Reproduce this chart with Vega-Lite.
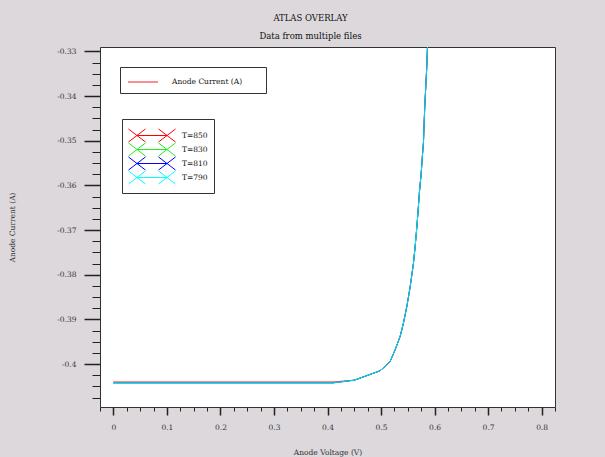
{
  "$schema": "https://vega.github.io/schema/vega-lite/v6.json",
  "autosize": {"type": "none"},
  "width": 455,
  "height": 360,
  "padding": {"left": 100, "top": 47, "right": 50, "bottom": 50},
  "background": "#dcd8dc",
  "title": {
    "text": "ATLAS OVERLAY",
    "subtitle": "Data from multiple files",
    "anchor": "middle",
    "dx": -17,
    "offset": 7,
    "font": "DejaVu Serif",
    "fontSize": 8.5,
    "fontWeight": "normal",
    "color": "#111",
    "subtitleFont": "DejaVu Serif",
    "subtitleFontSize": 8.5,
    "subtitleColor": "#111",
    "subtitlePadding": 9
  },
  "config": {
    "view": {"fill": "white", "stroke": "#333", "strokeWidth": 1},
    "axis": {
      "labelFont": "DejaVu Serif",
      "labelFontSize": 7.5,
      "labelColor": "#333",
      "titleFont": "DejaVu Serif",
      "titleFontSize": 7.5,
      "titleFontWeight": "normal",
      "titleColor": "#333",
      "grid": false,
      "domain": false,
      "tickColor": "#222"
    },
    "legend": {
      "labelFont": "DejaVu Serif",
      "labelFontSize": 7.5,
      "labelColor": "#111"
    }
  },
  "data": {
    "values": [
      {"v": 0, "i": -0.4040, "T": "T=850"},
      {"v": 0.125, "i": -0.4040, "T": "T=850"},
      {"v": 0.225, "i": -0.4040, "T": "T=850"},
      {"v": 0.41, "i": -0.4040, "T": "T=850"},
      {"v": 0.45, "i": -0.4036, "T": "T=850"},
      {"v": 0.498, "i": -0.4015, "T": "T=850"},
      {"v": 0.5077, "i": -0.4005, "T": "T=850"},
      {"v": 0.517, "i": -0.3994, "T": "T=850"},
      {"v": 0.5263, "i": -0.3968, "T": "T=850"},
      {"v": 0.5357, "i": -0.3938, "T": "T=850"},
      {"v": 0.5419, "i": -0.3908, "T": "T=850"},
      {"v": 0.5482, "i": -0.3871, "T": "T=850"},
      {"v": 0.5544, "i": -0.3827, "T": "T=850"},
      {"v": 0.5606, "i": -0.3774, "T": "T=850"},
      {"v": 0.5637, "i": -0.3737, "T": "T=850"},
      {"v": 0.5669, "i": -0.3693, "T": "T=850"},
      {"v": 0.5688, "i": -0.3664, "T": "T=850"},
      {"v": 0.5718, "i": -0.3614, "T": "T=850"},
      {"v": 0.575, "i": -0.3573, "T": "T=850"},
      {"v": 0.5774, "i": -0.3532, "T": "T=850"},
      {"v": 0.5793, "i": -0.3503, "T": "T=850"},
      {"v": 0.5806, "i": -0.3458, "T": "T=850"},
      {"v": 0.5819, "i": -0.3418, "T": "T=850"},
      {"v": 0.5837, "i": -0.3376, "T": "T=850"},
      {"v": 0.5856, "i": -0.3331, "T": "T=850"},
      {"v": 0.5867, "i": -0.3292, "T": "T=850"},
      {"v": 0.589, "i": -0.32, "T": "T=850"},

      {"v": 0, "i": -0.4042, "T": "T=830"},
      {"v": 0.125, "i": -0.4042, "T": "T=830"},
      {"v": 0.225, "i": -0.4042, "T": "T=830"},
      {"v": 0.41, "i": -0.4042, "T": "T=830"},
      {"v": 0.45, "i": -0.4036, "T": "T=830"},
      {"v": 0.498, "i": -0.4015, "T": "T=830"},
      {"v": 0.5077, "i": -0.4005, "T": "T=830"},
      {"v": 0.517, "i": -0.3994, "T": "T=830"},
      {"v": 0.5263, "i": -0.3968, "T": "T=830"},
      {"v": 0.5357, "i": -0.3938, "T": "T=830"},
      {"v": 0.5419, "i": -0.3908, "T": "T=830"},
      {"v": 0.5482, "i": -0.3871, "T": "T=830"},
      {"v": 0.5544, "i": -0.3827, "T": "T=830"},
      {"v": 0.5606, "i": -0.3774, "T": "T=830"},
      {"v": 0.5637, "i": -0.3737, "T": "T=830"},
      {"v": 0.5669, "i": -0.3693, "T": "T=830"},
      {"v": 0.5688, "i": -0.3664, "T": "T=830"},
      {"v": 0.5718, "i": -0.3614, "T": "T=830"},
      {"v": 0.575, "i": -0.3573, "T": "T=830"},
      {"v": 0.5774, "i": -0.3532, "T": "T=830"},
      {"v": 0.5793, "i": -0.3503, "T": "T=830"},
      {"v": 0.5806, "i": -0.3458, "T": "T=830"},
      {"v": 0.5819, "i": -0.3418, "T": "T=830"},
      {"v": 0.5837, "i": -0.3376, "T": "T=830"},
      {"v": 0.5856, "i": -0.3331, "T": "T=830"},
      {"v": 0.5867, "i": -0.3292, "T": "T=830"},
      {"v": 0.589, "i": -0.32, "T": "T=830"},

      {"v": 0, "i": -0.4042, "T": "T=810"},
      {"v": 0.125, "i": -0.4042, "T": "T=810"},
      {"v": 0.225, "i": -0.4042, "T": "T=810"},
      {"v": 0.41, "i": -0.4042, "T": "T=810"},
      {"v": 0.45, "i": -0.4036, "T": "T=810"},
      {"v": 0.498, "i": -0.4015, "T": "T=810"},
      {"v": 0.5077, "i": -0.4005, "T": "T=810"},
      {"v": 0.517, "i": -0.3994, "T": "T=810"},
      {"v": 0.5263, "i": -0.3968, "T": "T=810"},
      {"v": 0.5357, "i": -0.3938, "T": "T=810"},
      {"v": 0.5419, "i": -0.3908, "T": "T=810"},
      {"v": 0.5482, "i": -0.3871, "T": "T=810"},
      {"v": 0.5544, "i": -0.3827, "T": "T=810"},
      {"v": 0.5606, "i": -0.3774, "T": "T=810"},
      {"v": 0.5637, "i": -0.3737, "T": "T=810"},
      {"v": 0.5669, "i": -0.3693, "T": "T=810"},
      {"v": 0.5688, "i": -0.3664, "T": "T=810"},
      {"v": 0.5718, "i": -0.3614, "T": "T=810"},
      {"v": 0.575, "i": -0.3573, "T": "T=810"},
      {"v": 0.5774, "i": -0.3532, "T": "T=810"},
      {"v": 0.5793, "i": -0.3503, "T": "T=810"},
      {"v": 0.5806, "i": -0.3458, "T": "T=810"},
      {"v": 0.5819, "i": -0.3418, "T": "T=810"},
      {"v": 0.5837, "i": -0.3376, "T": "T=810"},
      {"v": 0.5856, "i": -0.3331, "T": "T=810"},
      {"v": 0.5867, "i": -0.3292, "T": "T=810"},
      {"v": 0.589, "i": -0.32, "T": "T=810"},

      {"v": 0, "i": -0.4042, "T": "T=790"},
      {"v": 0.125, "i": -0.4042, "T": "T=790"},
      {"v": 0.225, "i": -0.4042, "T": "T=790"},
      {"v": 0.41, "i": -0.4042, "T": "T=790"},
      {"v": 0.45, "i": -0.4036, "T": "T=790"},
      {"v": 0.498, "i": -0.4015, "T": "T=790"},
      {"v": 0.5077, "i": -0.4005, "T": "T=790"},
      {"v": 0.517, "i": -0.3994, "T": "T=790"},
      {"v": 0.5263, "i": -0.3968, "T": "T=790"},
      {"v": 0.5357, "i": -0.3938, "T": "T=790"},
      {"v": 0.5419, "i": -0.3908, "T": "T=790"},
      {"v": 0.5482, "i": -0.3871, "T": "T=790"},
      {"v": 0.5544, "i": -0.3827, "T": "T=790"},
      {"v": 0.5606, "i": -0.3774, "T": "T=790"},
      {"v": 0.5637, "i": -0.3737, "T": "T=790"},
      {"v": 0.5669, "i": -0.3693, "T": "T=790"},
      {"v": 0.5688, "i": -0.3664, "T": "T=790"},
      {"v": 0.5718, "i": -0.3614, "T": "T=790"},
      {"v": 0.575, "i": -0.3573, "T": "T=790"},
      {"v": 0.5774, "i": -0.3532, "T": "T=790"},
      {"v": 0.5793, "i": -0.3503, "T": "T=790"},
      {"v": 0.5806, "i": -0.3458, "T": "T=790"},
      {"v": 0.5819, "i": -0.3418, "T": "T=790"},
      {"v": 0.5837, "i": -0.3376, "T": "T=790"},
      {"v": 0.5856, "i": -0.3331, "T": "T=790"},
      {"v": 0.5867, "i": -0.3292, "T": "T=790"},
      {"v": 0.589, "i": -0.32, "T": "T=790"}
    ]
  },
  "mark": {"type": "line", "clip": true, "strokeWidth": 1},
  "encoding": {
    "x": {
      "field": "v",
      "type": "quantitative",
      "scale": {"domain": [-0.025, 0.825], "nice": false, "zero": false},
      "axis": {
        "title": "Anode Voltage (V)",
        "titlePadding": 18,
        "values": [-0.025, 0, 0.025, 0.05, 0.075, 0.1, 0.125, 0.15, 0.175, 0.2, 0.225, 0.25, 0.275, 0.3, 0.325, 0.35, 0.375, 0.4, 0.425, 0.45, 0.475, 0.5, 0.525, 0.55, 0.575, 0.6, 0.625, 0.65, 0.675, 0.7, 0.725, 0.75, 0.775, 0.8, 0.825],
        "labelExpr": "abs(datum.value*10 - round(datum.value*10)) < 0.001 ? '' + round(datum.value*10)/10 : ''",
        "tickSize": {"condition": {"test": "abs(datum.value*10 - round(datum.value*10)) < 0.001", "value": 8}, "value": 4},
        "tickWidth": {"condition": {"test": "abs(datum.value*10 - round(datum.value*10)) < 0.001", "value": 1.5}, "value": 1},
        "labelPadding": 8,
        "labelFlush": false,
        "labelOverlap": false
      }
    },
    "y": {
      "field": "i",
      "type": "quantitative",
      "scale": {"domain": [-0.4096, -0.329], "nice": false, "zero": false},
      "axis": {
        "title": "Anode Current (A)",
        "titlePadding": 40,
        "values": [-0.33, -0.3325, -0.335, -0.3375, -0.34, -0.3425, -0.345, -0.3475, -0.35, -0.3525, -0.355, -0.3575, -0.36, -0.3625, -0.365, -0.3675, -0.37, -0.3725, -0.375, -0.3775, -0.38, -0.3825, -0.385, -0.3875, -0.39, -0.3925, -0.395, -0.3975, -0.4, -0.4025, -0.405, -0.4075],
        "labelExpr": "abs(datum.value*100 - round(datum.value*100)) < 0.001 ? '' + round(datum.value*100)/100 : ''",
        "tickSize": {"condition": {"test": "abs(datum.value*100 - round(datum.value*100)) < 0.001", "value": 16}, "value": 8},
        "tickWidth": {"condition": {"test": "abs(datum.value*100 - round(datum.value*100)) < 0.001", "value": 1.5}, "value": 1},
        "labelPadding": 8,
        "labelFlush": false,
        "labelOverlap": false
      }
    },
    "color": {
      "field": "T",
      "type": "nominal",
      "sort": ["T=850", "T=830", "T=810", "T=790"],
      "scale": {"domain": ["T=850", "T=830", "T=810", "T=790"], "range": ["#ff0000", "#22ee22", "#0000ff", "#00ffff"]},
      "legend": {
        "title": "\u2800",
        "titleFontSize": 5,
        "titlePadding": 1,
        "orient": "none",
        "legendX": 22,
        "legendY": 72,
        "padding": 6,
        "strokeColor": "#333",
        "fillColor": "white",
        "symbolType": "M-5.88,-1.63L-1.63,1.63M-5.88,1.63L-1.63,-1.63M1.63,-1.63L5.88,1.63M1.63,1.63L5.88,-1.63M-3.75,0L3.75,0",
        "symbolSize": 64,
        "symbolStrokeWidth": 1,
        "symbolOffset": 19.5,
        "labelOffset": 25.5,
        "rowPadding": -5.5
      }
    },
    "strokeDash": {
      "datum": "Anode Current (A)",
      "scale": {"domain": ["Anode Current (A)"], "range": [[1, 0]]},
      "legend": {
        "title": null,
        "orient": "none",
        "legendX": 20,
        "legendY": 20,
        "padding": 7,
        "strokeColor": "#333",
        "fillColor": "white",
        "symbolType": "M-2.14,0L2.14,0",
        "symbolSize": 196,
        "symbolStrokeColor": "#ff6666",
        "symbolStrokeWidth": 1.5,
        "symbolOffset": 8,
        "labelOffset": 21,
        "labelExpr": "datum.label + '\u2800\u2800\u2800'"
      }
    }
  }
}
